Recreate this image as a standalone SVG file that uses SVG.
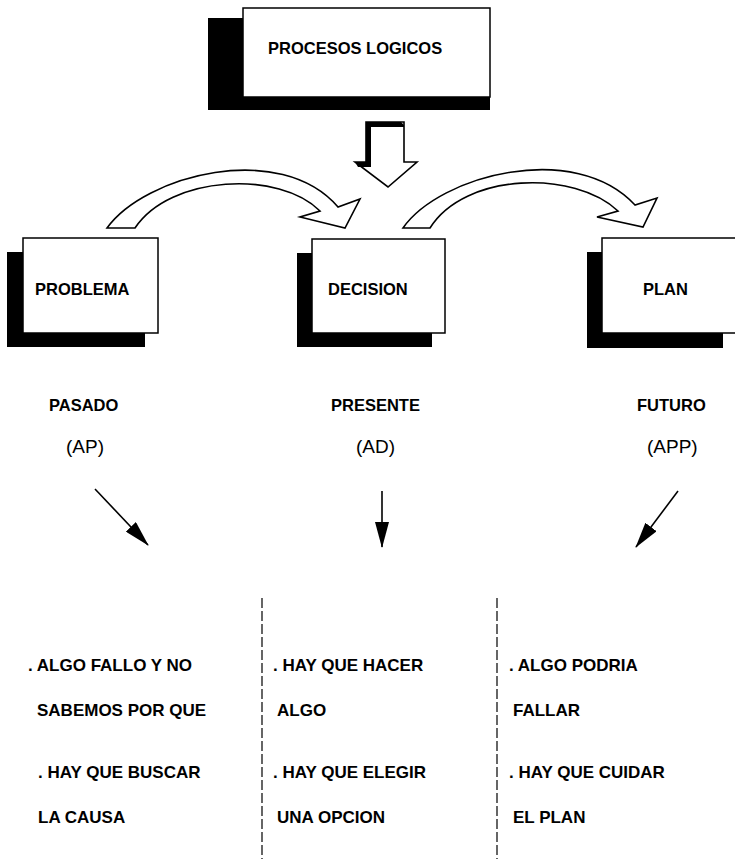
<svg xmlns="http://www.w3.org/2000/svg" width="735" height="859" viewBox="0 0 735 859">
  <style>
    .bg { fill: #ffffff; }
    .shadow { fill: #000000; }
    .box { fill: #ffffff; stroke: #000000; stroke-width: 1.5; }
    .lbl { font-family: "Liberation Sans", Arial, sans-serif; font-weight: bold; font-size: 16.5px; fill: #000000; }
    .abbr { font-family: "Liberation Sans", Arial, sans-serif; font-size: 19px; fill: #000000; }
    .note { font-family: "Liberation Sans", Arial, sans-serif; font-weight: bold; font-size: 17px; fill: #000000; }
    .bend { fill: #ffffff; stroke: #000000; stroke-width: 1.6; stroke-linejoin: miter; }
    .ptr { stroke: #000000; stroke-width: 1.6; fill: none; }
    .sep { stroke: #000000; stroke-width: 1.2; stroke-dasharray: 10 3; fill: none; }
  </style>
  <defs>
    <marker id="head" viewBox="0 0 26 14" refX="25" refY="7" markerWidth="26" markerHeight="14" markerUnits="userSpaceOnUse" orient="auto">
      <path d="M0,0 L26,7 L0,14 Z" fill="#000000"/>
    </marker>
  </defs>

  <rect class="bg" x="0" y="0" width="735" height="859"/>

  <!-- top node -->
  <g id="procesos-logicos">
    <rect class="shadow" x="208" y="18" width="282" height="92"/>
    <rect class="box" x="243" y="8" width="247" height="89"/>
    <text class="lbl" x="268" y="54">PROCESOS LOGICOS</text>
  </g>

  <!-- three stage nodes -->
  <g id="problema">
    <rect class="shadow" x="7" y="252" width="138" height="95"/>
    <rect class="box" x="23" y="238" width="135" height="95"/>
    <text class="lbl" x="35" y="295">PROBLEMA</text>
  </g>
  <g id="decision">
    <rect class="shadow" x="297" y="253" width="135" height="94"/>
    <rect class="box" x="312" y="239" width="133" height="94"/>
    <text class="lbl" x="328" y="295">DECISION</text>
  </g>
  <g id="plan">
    <rect class="shadow" x="587" y="252" width="136" height="96"/>
    <rect class="box" x="602" y="238" width="140" height="95"/>
    <text class="lbl" x="643" y="295">PLAN</text>
  </g>

  <!-- connectors -->
  <g id="connectors">
    <!-- block arrow down from the top node -->
    <polygon class="bend" points="366,122 404,122 404,162 417,162 388,187 355,162 366,162"/>
    <polygon class="shadow" points="366,122 401,122 404,125 404,127 371,127 371,167 358,167 355,162 366,162"/>
    <!-- curved arrow: problema to decision -->
    <path class="bend" d="M107,228 C145,175 280,140 338,207 L360,199 L345,228 L300,217 L320,211 C280,170 170,175 135,228 Z"/>
    <!-- curved arrow: decision to plan -->
    <path class="bend" d="M403,228 C440,175 575,140 635,205 L657,198 L643,227 L597,217 L618,211 C575,170 465,172 430,228 Z"/>
    <!-- pointers to each column -->
    <line class="ptr" x1="95" y1="489" x2="148" y2="545" marker-end="url(#head)"/>
    <line class="ptr" x1="382" y1="491" x2="382" y2="547" marker-end="url(#head)"/>
    <line class="ptr" x1="678" y1="491" x2="636" y2="547" marker-end="url(#head)"/>
    <!-- column separators -->
    <line class="sep" x1="262" y1="598" x2="262" y2="859"/>
    <line class="sep" x1="497" y1="598" x2="497" y2="859"/>
  </g>

  <!-- time labels -->
  <g id="pasado">
    <text class="lbl" x="49" y="411">PASADO</text>
    <text class="abbr" x="66" y="453">(AP)</text>
  </g>
  <g id="presente">
    <text class="lbl" x="331" y="411">PRESENTE</text>
    <text class="abbr" x="356" y="453">(AD)</text>
  </g>
  <g id="futuro">
    <text class="lbl" x="637" y="411">FUTURO</text>
    <text class="abbr" x="647" y="453">(APP)</text>
  </g>

  <!-- column notes -->
  <g id="notas-pasado">
    <text class="note" x="28" y="671">. ALGO FALLO Y NO</text>
    <text class="note" x="37" y="716">SABEMOS POR QUE</text>
    <text class="note" x="38" y="778">. HAY QUE BUSCAR</text>
    <text class="note" x="38" y="823">LA CAUSA</text>
  </g>
  <g id="notas-presente">
    <text class="note" x="273" y="671">. HAY QUE HACER</text>
    <text class="note" x="277" y="716">ALGO</text>
    <text class="note" x="273" y="778">. HAY QUE ELEGIR</text>
    <text class="note" x="277" y="823">UNA OPCION</text>
  </g>
  <g id="notas-futuro">
    <text class="note" x="509" y="671">. ALGO PODRIA</text>
    <text class="note" x="513" y="716">FALLAR</text>
    <text class="note" x="509" y="778">. HAY QUE CUIDAR</text>
    <text class="note" x="513" y="823">EL PLAN</text>
  </g>
</svg>
